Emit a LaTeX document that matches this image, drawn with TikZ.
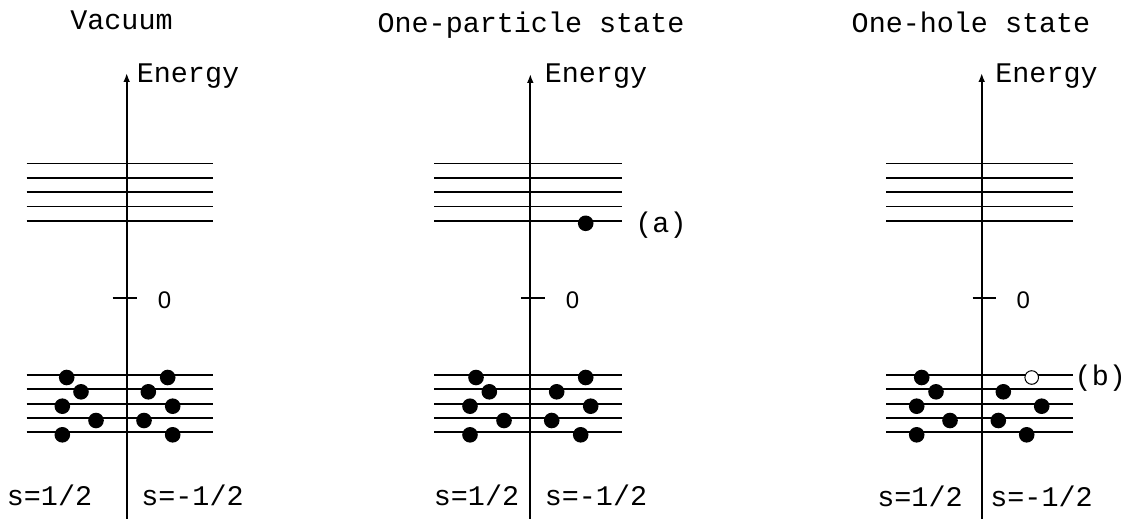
\documentclass[tikz,border=0pt]{standalone}
\usepackage{fontspec}
\setmonofont{Liberation Mono}
\newfontfamily\zerofont{Liberation Sans}
\usetikzlibrary{arrows.meta}

\tikzset{
  energyaxis/.style={-{Latex[length=4.5pt,width=3.4pt]}},
  electron/.style={circle, fill=black, inner sep=0pt, minimum size=7.8pt},
  hole/.style={circle, draw=black, line width=0.5pt, fill=white, inner sep=0pt, minimum size=6.8pt},
  lbl/.style={anchor=base, inner sep=0pt, font=\ttfamily\fontsize{14.2}{16}\selectfont},
  zero/.style={anchor=base, inner sep=0pt, font=\zerofont\fontsize{12}{14}\selectfont},
}

\begin{document}
\begin{tikzpicture}[x=0.5pt, y=-0.5pt, line width=0.9pt]
\useasboundingbox (0,0) rectangle (1124,519);

% vacuum
\node[lbl] (vac-title) at (121.5,30) {Vacuum};
\coordinate (vac-bot) at (126.7,519);
\coordinate (vac-top) at (126.7,73);
\draw[energyaxis] (vac-bot) -- (vac-top);
\node[lbl] (vac-energy) at (188,83) {Energy};
\foreach \y in {163.5,177.8,192.2,206.5,220.8,375,389.3,403.7,418,432.3}
  \draw (26.7,\y) -- (213,\y);
\draw (112.7,298.3) -- (136.7,298.3);
\node[zero] (vac-zero) at (164.5,308.3) {0};
\foreach \x/\y [count=\i] in {66.7/377.5, 81/391.8, 62.3/406.2, 96/420.5, 62.3/434.8,
    167.7/377.5, 148.3/391.8, 172.7/406.2, 144/420.5, 172.7/434.8}
  \node[electron] (vac-e\i) at (\x,\y) {};
\node[lbl] (vac-up) at (49.5,505) {s=1/2};
\node[lbl] (vac-down) at (192.5,505) {s=-1/2};

% one-particle state
\node[lbl] (part-title) at (531,33) {One-particle state};
\coordinate (part-bot) at (530.3,519);
\coordinate (part-top) at (530.3,74);
\draw[energyaxis] (part-bot) -- (part-top);
\node[lbl] (part-energy) at (596,83) {Energy};
\foreach \y in {163.5,177.8,192.2,206.5,220.8,375,389.3,403.7,418,432.3}
  \draw (434,\y) -- (621.7,\y);
\draw (521,298.3) -- (545,298.3);
\node[zero] (part-zero) at (572.5,308.3) {0};
\foreach \x/\y [count=\i] in {476/377.5, 489.3/391.8, 470/406.2, 504/420.5, 470/434.8,
    585.7/377.5, 556.7/391.8, 590.7/406.2, 551.7/420.5, 580.7/434.8}
  \node[electron] (part-e\i) at (\x,\y) {};
\node[electron] (part-a) at (585.7,223.3) {};
\node[lbl] (part-alabel) at (661,232) {(a)};
\node[lbl] (part-up) at (476.5,505) {s=1/2};
\node[lbl] (part-down) at (596,505) {s=-1/2};

% one-hole state
\node[lbl] (hole-title) at (971,33) {One-hole state};
\coordinate (hole-bot) at (981.7,519);
\coordinate (hole-top) at (981.7,73);
\draw[energyaxis] (hole-bot) -- (hole-top);
\node[lbl] (hole-energy) at (1046.5,83) {Energy};
\foreach \y in {163.5,177.8,192.2,206.5,220.8,375,389.3,403.7,418,432.3}
  \draw (886,\y) -- (1072.7,\y);
\draw (972.7,298.3) -- (996,298.3);
\node[zero] (hole-zero) at (1023.3,308.3) {0};
\foreach \x/\y [count=\i] in {921.7/377.5, 936/391.8, 916.7/406.2, 950/420.5, 916.7/434.8,
    1003.3/391.8, 1041.7/406.2, 998.3/420.5, 1026.7/434.8}
  \node[electron] (hole-e\i) at (\x,\y) {};
\node[hole] (hole-b) at (1031.7,377.5) {};
\node[lbl] (hole-blabel) at (1100.3,385) {(b)};
\node[lbl] (hole-up) at (920,506) {s=1/2};
\node[lbl] (hole-down) at (1041.5,506) {s=-1/2};
\end{tikzpicture}
\end{document}
